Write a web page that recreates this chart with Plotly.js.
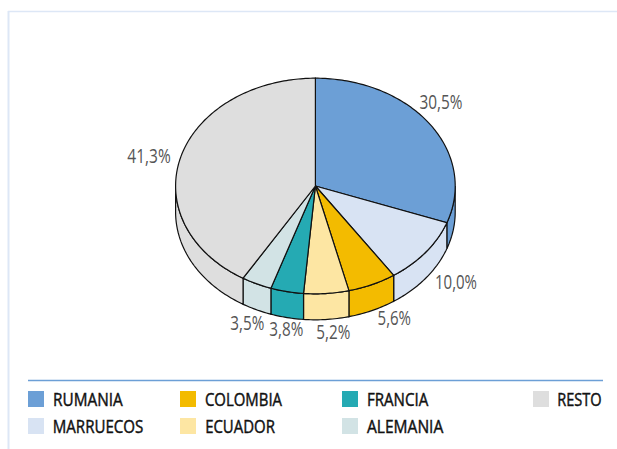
<!DOCTYPE html>
<html><head><meta charset="utf-8">
<script src="https://cdn.plot.ly/plotly-3.0.1.min.js"></script>
<style>html,body{margin:0;padding:0;background:#fff}</style></head>
<body><div id="chart" style="width:617px;height:449px"></div>
<script>
const categories = ['RUMANIA','MARRUECOS','COLOMBIA','ECUADOR','FRANCIA','ALEMANIA','RESTO'];
const shares = [30.5,10.0,5.6,5.2,3.8,3.5,41.3];
const colours = ['#6c9fd6','#d8e3f3','#f3bb00','#fde6a3','#25aab3','#d2e3e5','#dedede'];

// layout only
const pie = {cx:315.4, cy:186, rx:139.8, ry:107.8, depth:26};
const labelX = [440.7,456,394.8,333,286.3,247,149.4];
const labelY = [101.2,281.2,317.9,331.2,328.9,322.2,155.2];
const labelW = [43,42,33.5,34,34,34,43.4];
const swatchX = [28,28,180,180,342,342,533];
const swatchY = [391,418,391,418,391,418,391];
const legendTextX = [52.7,52.7,205.3,205.3,367.7,367.7,557.3];
const legendTextW = [69.6,90.6,77,69.7,61.3,76.3,44.4];

const total = shares.reduce((a,b)=>a+b,0);
const pt = (deg,dy=0)=>[pie.cx+pie.rx*Math.sin(deg*Math.PI/180), pie.cy-pie.ry*Math.cos(deg*Math.PI/180)+dy];
function arc(a,b,dy=0){const n=Math.max(2,Math.ceil(Math.abs(b-a)));const o=[];for(let i=0;i<=n;i++)o.push(pt(a+(b-a)*i/n,dy));return o;}
function poly(points,color,name){
  return {type:'scatter',mode:'lines',x:points.map(p=>p[0]),y:points.map(p=>p[1]),fill:'toself',fillcolor:color,
    line:{color:'#111',width:1.2,simplify:false},name:name,hoverinfo:'name',showlegend:false};
}
const walls=[],tops=[];
let c=0;
shares.forEach((v,i)=>{
  const a=c/total*360,b=(c+v)/total*360;c+=v;
  const wa=Math.max(a,90),wb=Math.min(b,270);
  if(wb>wa){walls.push(poly([...arc(wa,wb),...arc(wb,wa,pie.depth),pt(wa)],colours[i],categories[i]));}
  tops.push(poly([[pie.cx,pie.cy],...arc(a,b),[pie.cx,pie.cy]],colours[i],categories[i]));
});
const fontFamily='"Open Sans","Liberation Sans",sans-serif';
const annotations=[], fitWidths=[];
shares.forEach((v,i)=>{annotations.push({x:labelX[i],y:labelY[i],xref:'x',yref:'y',showarrow:false,xanchor:'center',yanchor:'middle',
  text:v.toFixed(1).replace('.',',')+'%',font:{family:fontFamily,size:20,color:'#555'}});fitWidths.push([labelW[i],0]);});
categories.forEach((t,i)=>{annotations.push({x:legendTextX[i]+legendTextW[i]/2,y:swatchY[i]+7.5,xref:'x',yref:'y',showarrow:false,xanchor:'center',yanchor:'middle',
  text:t,font:{family:fontFamily,size:18,color:'#111'}});fitWidths.push([legendTextW[i],0.45]);});
const shapes=[
  {type:'line',x0:8.5,x1:8.5,y0:11,y1:449,line:{color:'#dde7f6',width:2}},
  {type:'line',x0:8,x1:617,y0:11.5,y1:11.5,line:{color:'#dde7f6',width:1.5}},
  {type:'line',x0:28,x1:603,y0:380.5,y1:380.5,line:{color:'#6c9fd6',width:1.3}}
];
categories.forEach((t,i)=>shapes.push({type:'rect',x0:swatchX[i],x1:swatchX[i]+16,y0:swatchY[i],y1:swatchY[i]+16,fillcolor:colours[i],line:{width:0}}));
Plotly.newPlot('chart',[...walls,...tops],{
  width:617,height:449,margin:{l:0,r:0,t:0,b:0},paper_bgcolor:'#fff',plot_bgcolor:'#fff',showlegend:false,
  xaxis:{range:[0,617],visible:false,fixedrange:true},
  yaxis:{range:[449,0],visible:false,fixedrange:true},
  shapes,annotations
},{displayModeBar:false,staticPlot:true}).then(gd=>{
  // condense the annotation text to the widths of the reference's condensed face
  gd.querySelectorAll('.annotation-text').forEach((el,i)=>{
    el.setAttribute('textLength',fitWidths[i][0]);
    el.setAttribute('lengthAdjust','spacingAndGlyphs');
    if(fitWidths[i][1]){el.style.stroke='#111';el.style.strokeWidth=fitWidths[i][1]+'px';}
  });
});
</script></body></html>
